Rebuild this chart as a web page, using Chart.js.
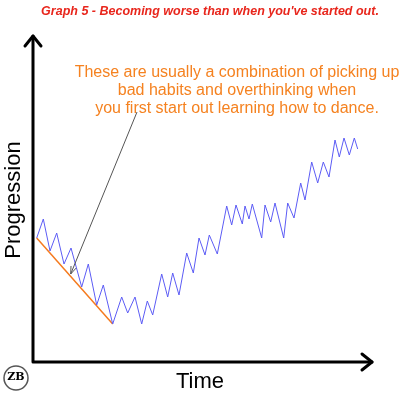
<!DOCTYPE html>
<html lang="en">
<head>
<meta charset="UTF-8">
<script src="https://cdn.jsdelivr.net/npm/chart.js"></script>
<style>
  body { margin: 0; background: #fff; }
  #wrap { width: 400px; height: 400px; }
</style>
</head>
<body>
<div id="wrap"><canvas id="chart"></canvas></div>
<script>
// progress over time (arbitrary units)
const timeX = [36.7,43.3,50,56.7,64,71,81.7,88.3,96.7,103.3,112.7,121.7,127.7,135,141.7,147.3,152.7,161.7,167.7,172.7,179,186.7,193.3,199,205,209.3,217.3,226.7,231.7,236,242.3,245,249,252.3,261.7,265,270.7,275,283.7,287.7,294,300.7,305,311.7,317.7,323.3,329,335,339.3,344,349.3,354.3,357.7];
const progressY = [238,219,251,233,264,248,287,264,305,285,324,297,313,297,324,301,315,274,297,273,295,253,273,238,255,235,254,206,225,205,224,206,219,204,238,205,222,203,238,203,218,183,200,162,183,162,177,140,157,138,155,138,149];
const trendX = [36.7, 112.7];
const trendY = [238, 324];
const noteLines = ['These are usually a combination of picking up', 'bad habits and overthinking when', 'you first start out learning how to dance.'];

const toPts = (xs, ys) => xs.map((x, i) => ({ x: x, y: 400 - ys[i] }));

const decor = {
  id: 'decor',
  afterDraw(chart) {
    const c = chart.ctx;
    c.save();
    // axes
    c.strokeStyle = '#000'; c.lineWidth = 3; c.lineCap = 'round'; c.lineJoin = 'round';
    c.beginPath(); c.moveTo(33, 36); c.lineTo(33, 362); c.lineTo(372, 362); c.stroke();
    c.beginPath(); c.moveTo(25, 46); c.lineTo(33, 36); c.lineTo(41, 46); c.stroke();
    c.beginPath(); c.moveTo(362, 354); c.lineTo(372, 362); c.lineTo(362, 370); c.stroke();
    // pointer
    const xs = chart.scales.x, ys = chart.scales.y;
    const tx = xs.getPixelForValue(70.7), ty = ys.getPixelForValue(400 - 274);
    c.strokeStyle = '#555'; c.lineWidth = 1; c.lineCap = 'butt';
    c.beginPath(); c.moveTo(137, 112); c.lineTo(tx, ty); c.stroke();
    const a = Math.atan2(ty - 112, tx - 137);
    c.beginPath();
    c.moveTo(tx - 8 * Math.cos(a - 0.35), ty - 8 * Math.sin(a - 0.35));
    c.lineTo(tx, ty);
    c.lineTo(tx - 8 * Math.cos(a + 0.35), ty - 8 * Math.sin(a + 0.35));
    c.stroke();
    // texts
    c.textAlign = 'center'; c.textBaseline = 'middle';
    c.fillStyle = '#e8261c'; c.font = 'italic bold 12.5px "Liberation Sans", Arial';
    c.fillText("Graph 5 - Becoming worse than when you've started out.", 210, 12);
    c.fillStyle = '#f58220'; c.font = '16px "Liberation Sans", Arial';
    noteLines.forEach((t, i) => c.fillText(t, 237, 73 + i * 18));
    c.fillStyle = '#000'; c.font = '22px "Liberation Sans", Arial';
    c.fillText('Time', 200, 382);
    c.translate(14, 200); c.rotate(-Math.PI / 2);
    c.fillText('Progression', 0, 0);
    c.setTransform(1, 0, 0, 1, 0, 0);
    c.scale(chart.currentDevicePixelRatio, chart.currentDevicePixelRatio);
    // logo
    c.lineWidth = 1.5;
    c.beginPath(); c.arc(16, 378, 12, 0, Math.PI * 2); c.stroke();
    c.font = 'bold 11px "DejaVu Serif", serif';
    c.fillText('ZB', 16, 377);
    c.restore();
  }
};

new Chart(document.getElementById('chart'), {
  type: 'scatter',
  data: {
    datasets: [
      { data: toPts(timeX, progressY), showLine: true, borderColor: '#5c5cf5', borderWidth: 1, pointRadius: 0, tension: 0 },
      { data: toPts(trendX, trendY), showLine: true, borderColor: '#f57a1e', borderWidth: 1.5, pointRadius: 0 }
    ]
  },
  options: {
    responsive: true, maintainAspectRatio: false, animation: false,
    layout: { padding: { left: 33, top: 38, right: 25, bottom: 38 } },
    scales: {
      x: { type: 'linear', min: 33, max: 375, display: false },
      y: { type: 'linear', min: 38, max: 362, display: false }
    },
    plugins: { legend: { display: false }, tooltip: { enabled: false } }
  },
  plugins: [decor]
});
</script>
</body>
</html>
